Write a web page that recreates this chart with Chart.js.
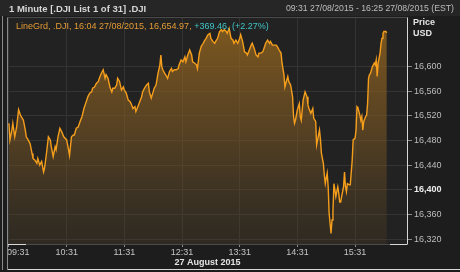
<!DOCTYPE html>
<html lang="en">
<head>
<meta charset="UTF-8">
<title>.DJI 1 Minute</title>
<script src="https://cdn.jsdelivr.net/npm/chart.js"></script>
<style>
    html, body { margin: 0; padding: 0; background: #1d1d1d; }
    canvas { display: block; }
</style>
</head>
<body>
<canvas id="chartDji" width="460" height="272"></canvas>
<script>
// minutes after 09:31 on 27 Aug 2015
const minutes = [
    0,1,3,4,6,8,10,12,15,17,18,20,22,24,25,27,29,30,32,34,36,37,39,41,43,44,46,48,49,51,
    53,55,57,60,62,63,65,67,68,70,72,74,76,78,
    81,82,84,86,87,89,91,93,94,96,98,100,101,103,105,107,108,110,112,113,
    115,117,119,120,122,124,126,127,129,131,132,134,136,138,139,141,143,145,146,148,150,151,
    153,155,157,158,159,160,162,164,165,167,169,170,172,174,176,177,179,181,183,184,
    186,188,190,191,193,195,196,198,200,202,203,205,207,209,210,212,214,215,217,219,221,222,224,226,227,229,
    231,233,234,236,238,240,241,243,245,247,248,250,252,253,255,257,259,260,262,264,
    266,267,269,271,272,274,276,278,279,281,283,284,286,287,288,290,291,293,295,296,
    297,298,300,302,303,304,306,308,310,311,
    312,314,316,317,319,320,322,323,324,325,327,328,329,330,331,332,333,335,336,337,
    338,339,340,342,343,344,345,346,348,349,350,351,352,354,355,357,358,360,361,362,
    363,365,366,367,368,369,371,372,373,374,375,376,378,380,381,382,383,384,386,387,
    388,389,390,392,393
];
const prices = [
    16508,16481,16497,16508,16486,16502,16530,16521,16513,16497,16486,16481,16475,16459,16451,16448,16443,16451,16440,16446,
    16429,16435,16459,16486,16481,16470,16454,16470,16465,16486,16500,16494,16486,16481,16465,16456,16486,16489,16489,16500,
    16502,16511,16519,16532,
    16546,16551,16557,16559,16565,16567,16573,16576,16581,16589,16595,16581,16587,16581,16567,16559,16565,16565,16570,16581,
    16576,16562,16567,16562,16557,16546,16543,16540,16532,16535,16527,16535,16543,16551,16559,16565,16570,16573,16559,16549,
    16559,16565,
    16570,16589,16603,16619,16600,16595,16589,16584,16581,16592,16597,16592,16595,16595,16597,16603,16611,16608,16616,16608,
    16619,16627,16619,16608,16606,16603,16597,16622,16633,16638,16641,16646,16652,16654,16646,16641,16638,16641,16646,16657,
    16660,16657,16660,16657,16654,16662,
    16646,16643,16638,16643,16638,16646,16652,16641,16624,16622,16619,16627,16635,16638,16630,16619,16616,16622,16622,16624,
    16633,16638,16643,16638,16641,16635,16635,16635,16633,16627,16622,16606,16587,16567,16573,16584,16576,16570,16551,16519,
    16508,16513,16530,16540,16519,16513,16546,16559,16551,16538,
    16532,16524,16532,16516,16511,16473,16489,16497,16481,16459,16443,16424,16410,16419,16427,16405,16362,16329,16351,16367,
    16410,16400,16389,16405,16395,16380,16380,16389,16405,16429,16405,16397,16410,16408,16408,16448,16481,16484,16497,16535,
    16533,16521,16513,16519,16497,16511,16519,16521,16540,16581,16587,16589,16600,16606,16603,16611,16584,16606,16622,16638,
    16646,16654,16657,16657,16654.97
];
const hourLabels = ['09:31', '10:31', '11:31', '12:31', '13:31', '14:31', '15:31'];
const priceTicks = [16320, 16360, 16400, 16440, 16480, 16520, 16560, 16600];

const FONT = "'Liberation Sans', Arial, sans-serif";

const points = minutes.map((m, i) => ({ x: m, y: prices[i] }));

// frame, header texts and the time labels
const decor = {
    id: 'decor',
    beforeDraw(chart) {
        const { ctx, chartArea: a } = chart;
        ctx.save();
        ctx.fillStyle = '#1d1d1d';
        ctx.fillRect(0, 0, chart.width, chart.height);
        ctx.fillStyle = '#262626';
        ctx.fillRect(0, 0, chart.width, 16);
        ctx.fillStyle = '#222222';
        ctx.fillRect(a.left, a.top, a.right - a.left, a.bottom - a.top);
        ctx.restore();
    },
    afterDraw(chart) {
        const { ctx, chartArea: a } = chart;
        const xs = chart.scales.x;
        ctx.save();
        ctx.textBaseline = 'middle';

        ctx.font = 'bold 9.5px ' + FONT;
        ctx.fillStyle = '#d6d6d6';
        ctx.textAlign = 'left';
        ctx.fillText('1 Minute [.DJI List 1 of 31] .DJI', 9, 9);
        ctx.font = '8.7px ' + FONT;
        ctx.fillStyle = '#bdbdbd';
        ctx.textAlign = 'right';
        ctx.fillText('09:31 27/08/2015 - 16:25 27/08/2015 (EST)', 454, 9);

        // legend line
        ctx.font = '9px ' + FONT;
        ctx.textAlign = 'left';
        const first = 'LineGrd, .DJI, 16:04 27/08/2015, 16,654.97, ';
        ctx.fillStyle = '#e39a35';
        ctx.fillText(first, 16, 27);
        ctx.fillStyle = '#3fc6c6';
        ctx.fillText('+369.46, (+2.27%)', 16 + ctx.measureText(first).width, 27);

        ctx.font = 'bold 9px ' + FONT;
        ctx.fillStyle = '#e4e4e4';
        ctx.fillText('Price', 413, 23);
        ctx.fillText('USD', 413, 34);

        // time labels
        ctx.font = '9px ' + FONT;
        ctx.fillStyle = '#c4c4c4';
        hourLabels.forEach((lab, i) => {
            const px = xs.getPixelForValue(i * 60);
            ctx.textAlign = i === 0 ? 'left' : 'center';
            ctx.fillText(lab, i === 0 ? 7 : px, 253);
        });
        ctx.font = 'bold 9px ' + FONT;
        ctx.fillStyle = '#e4e4e4';
        ctx.textAlign = 'center';
        ctx.fillText('27 August 2015', (a.left + a.right) / 2, 263);

        // borders
        ctx.lineWidth = 1;
        ctx.strokeStyle = '#4a4a4a';
        ctx.beginPath();
        ctx.moveTo(a.left - 0.5, a.top - 0.5);
        ctx.lineTo(a.right, a.top - 0.5);
        ctx.moveTo(a.left - 0.5, a.bottom + 0.5);
        ctx.lineTo(a.right, a.bottom + 0.5);
        ctx.stroke();
        ctx.strokeStyle = '#8a8a8a';
        ctx.beginPath();
        ctx.moveTo(a.left - 0.5, a.top - 0.5);
        ctx.lineTo(a.left - 0.5, 270);
        ctx.moveTo(2.5, 16);
        ctx.lineTo(2.5, 270);
        ctx.stroke();
        ctx.strokeStyle = '#d8d8d8';
        ctx.beginPath();
        ctx.moveTo(a.right + 0.5, a.top - 0.5);
        ctx.lineTo(a.right + 0.5, a.bottom + 0.5);
        ctx.moveTo(a.left, a.bottom + 0.5);
        ctx.lineTo(a.left + 18, a.bottom + 0.5);
        ctx.moveTo(a.right - 17, a.bottom + 0.5);
        ctx.lineTo(a.right, a.bottom + 0.5);
        ctx.moveTo(a.left, 269.5);
        ctx.lineTo(chart.width, 269.5);
        ctx.stroke();
        ctx.restore();
    }
};

new Chart(document.getElementById('chartDji'), {
    type: 'line',
    data: {
        datasets: [{
            label: 'LineGrd, .DJI',
            data: points,
            borderColor: '#f59e1c',
            borderWidth: 1.4,
            pointRadius: 0,
            tension: 0,
            fill: 'start',
            backgroundColor: function(context) {
                const area = context.chart.chartArea;
                if (!area) return 'rgba(120,85,30,0.6)';
                const g = context.chart.ctx.createLinearGradient(0, area.top, 0, area.bottom);
                g.addColorStop(0, 'rgba(160,108,30,0.75)');
                g.addColorStop(0.5, 'rgba(128,90,35,0.55)');
                g.addColorStop(1, 'rgba(80,62,35,0.28)');
                return g;
            }
        }]
    },
    options: {
        responsive: false,
        animation: false,
        devicePixelRatio: 1,
        layout: { padding: { left: 8, top: 18, right: 0, bottom: 0 } },
        plugins: { legend: { display: false }, tooltip: { enabled: false } },
        scales: {
            x: {
                type: 'linear',
                min: -1,
                max: 414,
                afterBuildTicks: s => { s.ticks = hourLabels.map((l, i) => ({ value: i * 60 })); },
                afterFit: s => { s.height = 28; },
                ticks: { display: false },
                border: { display: false },
                grid: { color: '#343434', tickColor: '#8a8a8a', tickLength: 3 }
            },
            y: {
                position: 'right',
                min: 16312,
                max: 16679,
                afterBuildTicks: s => { s.ticks = priceTicks.map(v => ({ value: v })); },
                afterFit: s => { s.width = 53; },
                border: { display: false },
                grid: { color: '#343434', tickColor: '#8a8a8a', tickLength: 5 },
                ticks: {
                    padding: 2,
                    callback: v => v.toLocaleString('en-US'),
                    color: c => c.tick && c.tick.value === 16400 ? '#ededed' : '#bdbdbd',
                    font: c => ({
                        family: FONT,
                        size: 9,
                        weight: c.tick && c.tick.value === 16400 ? 'bold' : 'normal'
                    })
                }
            }
        }
    },
    plugins: [decor]
});
</script>
</body>
</html>
